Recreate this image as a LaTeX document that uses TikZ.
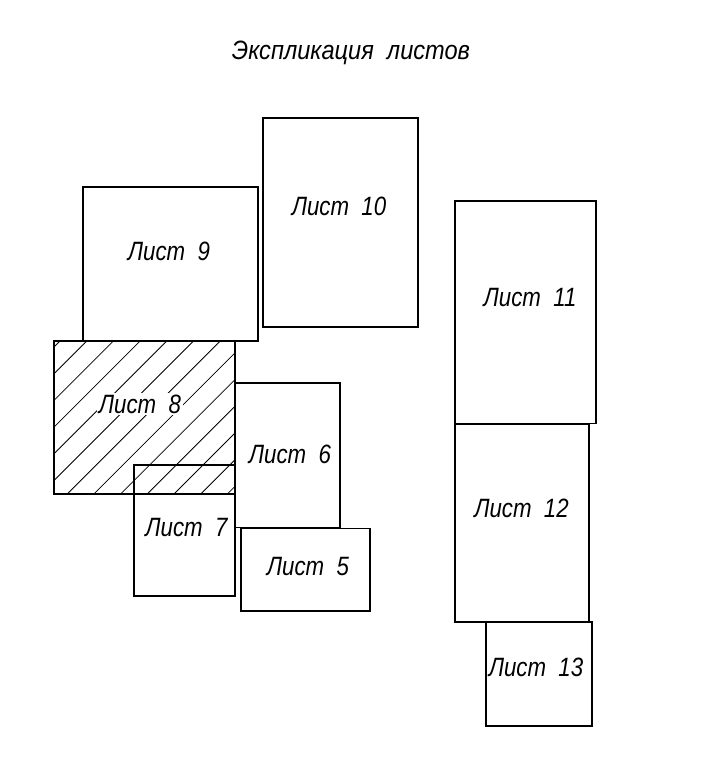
\documentclass[tikz,border=0pt]{standalone}
\usepackage{fontspec}
\setmainfont{Liberation Sans}
\newfontfamily\gostfont[FakeStretch=0.84]{Liberation Sans}
\newfontfamily\gosttitle[FakeStretch=0.89]{Liberation Sans}
\begin{document}
\begin{tikzpicture}[x=1pt,y=-1pt,
  sheet/.style={draw=black,line width=1.3pt},
  hatchline/.style={draw=black,line width=0.8pt},
  lbl/.style={anchor=base,inner sep=0pt,font=\gostfont\fontsize{26.5}{30}\selectfont\itshape},
  ttl/.style={anchor=base,inner sep=0pt,font=\gosttitle\fontsize{26.5}{30}\selectfont\itshape}]
\useasboundingbox (0,0) rectangle (719,764);
% hatch of sheet 8
\begin{scope}
  \clip (54,341) rectangle (235,494);
  \foreach \k in {0,...,13}{
    \pgfmathsetmacro{\c}{401+26.7*\k}
    \draw[hatchline] (\c-300,300) -- (\c-540,540);
  }
\end{scope}
% sheets
\draw[sheet] (83,187) rectangle (258,341);
\draw[sheet] (263,118) rectangle (418,327);
\draw[sheet] (54,341) rectangle (235,494);
\draw[sheet] (134,465) rectangle (235,596);
\draw[sheet] (235,383) rectangle (340,527.5);
\draw[sheet] (241,528.5) rectangle (370,611);
\draw[sheet] (455,201) rectangle (596,423.5);
\draw[sheet] (455,424) rectangle (589,622);
\draw[sheet] (486,622) rectangle (592,726);
% labels
\node[ttl] (title) at (351,59.5) {Экспликация\ \ листов};
\node[lbl] (l9) at (169,260) {Лист\ \ 9};
\node[lbl] (l10) at (339,215) {Лист\ \ 10};
\node[lbl,fill=white,inner sep=2pt] (l8) at (140,413) {Лист\ \ 8};
\node[lbl] (l7) at (186.5,536) {Лист\ \ 7};
\node[lbl] (l6) at (290,463) {Лист\ \ 6};
\node[lbl] (l5) at (308,575) {Лист\ \ 5};
\node[lbl] (l11) at (530,306) {Лист\ \ 11};
\node[lbl] (l12) at (521.5,517) {Лист\ \ 12};
\node[lbl] (l13) at (536,676) {Лист\ \ 13};
\end{tikzpicture}
\end{document}
